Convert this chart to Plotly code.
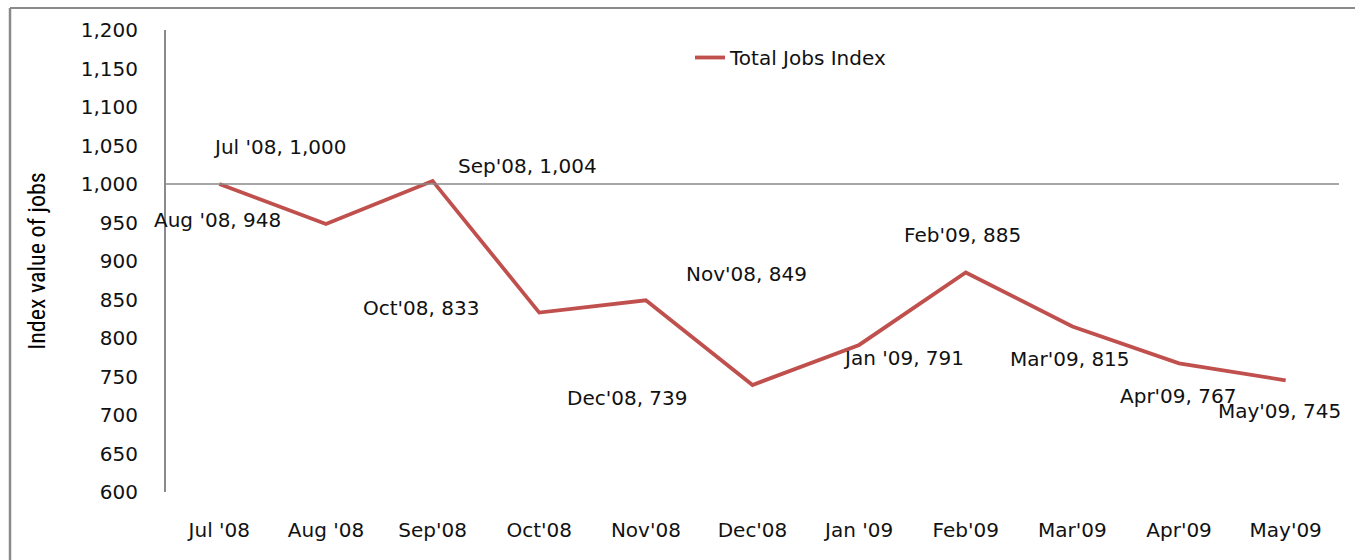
import plotly.graph_objects as go

# ---- data ----
months = ["Jul '08", "Aug '08", "Sep'08", "Oct'08", "Nov'08", "Dec'08",
          "Jan '09", "Feb'09", "Mar'09", "Apr'09", "May'09"]
jobs_index = [1000, 948, 1004, 833, 849, 739, 791, 885, 815, 767, 745]
series_name = "Total Jobs Index"
y_ticks = list(range(600, 1201, 50))

# ---- layout constants (pixels) ----
W, H = 1355, 560
L, R, T, B = 166, 16, 30, 68
PW, PH = W - L - R, H - T - B

def px_x(px):
    return (px - L) / PW

def px_y(py):
    return 1 - (py - T) / PH

# label offsets (dx, dy) in pixels, dy positive = up
label_offsets = [(60, 37), (-108, 4), (95, 15), (-118, 5), (101, 26), (-125, -13),
                 (44, -13), (-3, 38), (-2, -33), (-1, -33), (-6, -31)]

FONT = "DejaVu Sans, Verdana, sans-serif"
TXT = "#111111"
GRAY = "#8a8a8a"
RED = "#C0504D"

fig = go.Figure()
fig.add_trace(go.Scatter(
    x=months, y=jobs_index, mode="lines", name=series_name,
    line=dict(color=RED, width=3.8), showlegend=True,
))

annotations = []
for m, v, (dx, dy) in zip(months, jobs_index, label_offsets):
    annotations.append(dict(
        x=m, y=v, xref="x", yref="y", text=f"{m}, {v:,}",
        showarrow=False, xshift=dx, yshift=dy,
        font=dict(family=FONT, size=20, color=TXT),
        xanchor="center", yanchor="middle",
    ))

shapes = [
    # horizontal axis crossing at 1,000
    dict(type="line", xref="paper", yref="y", x0=0, x1=1, y0=1000, y1=1000,
         line=dict(color=GRAY, width=1.6)),
    # outer chart border (top and left)
    dict(type="line", xref="paper", yref="paper", x0=px_x(10), x1=px_x(W + 5),
         y0=px_y(8), y1=px_y(8), line=dict(color=GRAY, width=2)),
    dict(type="line", xref="paper", yref="paper", x0=px_x(10), x1=px_x(10),
         y0=px_y(8), y1=px_y(H + 5), line=dict(color=GRAY, width=2.5)),
]

fig.update_layout(
    width=W, height=H,
    margin=dict(l=L, r=R, t=T, b=B),
    paper_bgcolor="white", plot_bgcolor="white",
    font=dict(family=FONT, size=20, color=TXT),
    annotations=annotations, shapes=shapes,
    legend=dict(x=px_x(690), y=px_y(38), xanchor="left", yanchor="top",
                bgcolor="rgba(0,0,0,0)", font=dict(family=FONT, size=20, color=TXT)),
    xaxis=dict(
        type="category", range=[-0.5, len(months) - 0.5],
        showline=False, showgrid=False, zeroline=False, ticks="",
        ticklabelstandoff=24, tickfont=dict(family=FONT, size=20, color=TXT),
        fixedrange=True,
    ),
    yaxis=dict(
        range=[600, 1200], tickvals=y_ticks, tickformat=",",
        showline=True, linecolor=GRAY, linewidth=2,
        showgrid=False, zeroline=False, ticks="",
        ticklabelstandoff=22, tickfont=dict(family=FONT, size=20, color=TXT),
        title=dict(text="Index value of jobs", standoff=28,
                   font=dict(family="Liberation Sans Narrow, Roboto Condensed, Liberation Sans, sans-serif",
                             size=24, color="#000000")),
        automargin=False, fixedrange=True,
    ),
)

fig.write_html("out.html", config={"displayModeBar": False},
               post_script="document.body.style.margin='0';")
